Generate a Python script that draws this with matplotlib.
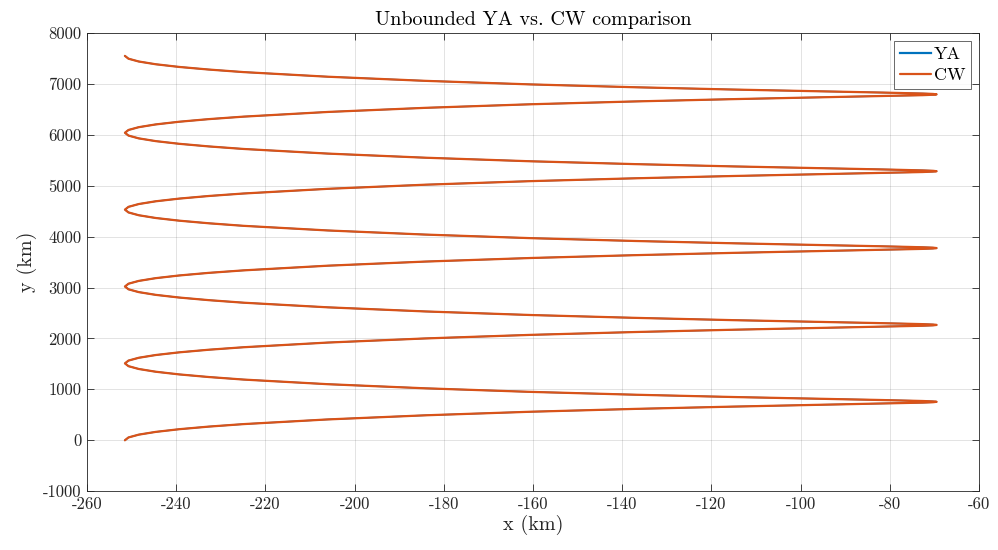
import matplotlib
matplotlib.use("Agg")
import matplotlib.pyplot as plt
import numpy as np

plt.rcParams['font.family'] = ['cmr10', 'DejaVu Serif']
plt.rcParams['axes.unicode_minus'] = False
plt.rcParams['axes.formatter.use_mathtext'] = False

# x (km) along one orbit cycle
x_cycle = [-251.5, -250.7, -248.4, -244.6, -239.3, -232.7, -224.9, -206.0, -184.1,
           -160.5, -137.0, -115.0, -96.2, -81.7, -72.6, -70.3, -69.5, -70.3, -72.6,
           -81.7, -96.2, -115.0, -137.0, -160.5, -184.1, -206.0, -224.9, -232.7,
           -239.3, -244.6, -248.4, -250.7]

# y (km) for each of the five cycles
y_cycle1 = [0, 55, 110, 164, 217, 268, 317, 409, 490, 560, 616, 661, 695, 720, 739, 747,
            755, 763, 771, 790, 815, 849, 894, 950, 1020, 1101, 1192, 1242, 1293, 1346, 1400, 1455]
y_cycle2 = [1510, 1565, 1620, 1674, 1727, 1778, 1827, 1919, 2000, 2070, 2126, 2171, 2205, 2230, 2249, 2257,
            2265, 2273, 2281, 2300, 2325, 2359, 2404, 2460, 2530, 2611, 2702, 2752, 2803, 2856, 2910, 2965]
y_cycle3 = [3020, 3075, 3130, 3184, 3237, 3288, 3337, 3429, 3510, 3580, 3636, 3681, 3715, 3740, 3759, 3767,
            3775, 3783, 3791, 3810, 3835, 3869, 3914, 3970, 4040, 4121, 4212, 4262, 4313, 4366, 4420, 4475]
y_cycle4 = [4530, 4585, 4640, 4694, 4747, 4798, 4847, 4939, 5020, 5090, 5146, 5191, 5225, 5250, 5269, 5277,
            5285, 5293, 5301, 5320, 5345, 5379, 5424, 5480, 5550, 5631, 5722, 5772, 5823, 5876, 5930, 5985]
y_cycle5 = [6040, 6095, 6150, 6204, 6257, 6308, 6357, 6449, 6530, 6600, 6656, 6701, 6735, 6760, 6779, 6787,
            6795, 6803, 6811, 6830, 6855, 6889, 6934, 6990, 7060, 7141, 7232, 7282, 7333, 7386, 7440, 7495]
x_end = [-251.5]
y_end = [7550]

x_ticks = [-260, -240, -220, -200, -180, -160, -140, -120, -100, -80, -60]
y_ticks = [-1000, 0, 1000, 2000, 3000, 4000, 5000, 6000, 7000, 8000]

x_all = x_cycle * 5 + x_end
y_all = y_cycle1 + y_cycle2 + y_cycle3 + y_cycle4 + y_cycle5 + y_end

fig = plt.figure(figsize=(9.98, 5.5), dpi=100)
ax = fig.add_axes([0.0872, 0.107, 0.8937, 0.833])

ax.plot(x_all, y_all, color=(0.0, 0.447, 0.741), lw=1.1, label='YA')
ax.plot(x_all, y_all, color=(0.85, 0.325, 0.098), lw=1.6, label='CW',
        solid_joinstyle='round', solid_capstyle='round')

ax.set_xlim(-260, -60)
ax.set_ylim(-1000, 8000)
ax.set_xticks(x_ticks)
ax.set_yticks(y_ticks)
ax.set_xticklabels([str(v) for v in x_ticks])
ax.set_yticklabels([str(v) for v in y_ticks])
ax.grid(True, color=(0.15, 0.15, 0.15), alpha=0.15, lw=0.6)
ax.set_axisbelow(True)
ax.tick_params(direction='in', top=True, right=True, length=5, width=0.6,
               labelsize=12, colors=(0.15, 0.15, 0.15), pad=4)
for s in ax.spines.values():
    s.set_color((0.15, 0.15, 0.15))
    s.set_linewidth(0.6)

ax.set_xlabel('x (km)', fontsize=14.5, color=(0.15, 0.15, 0.15), labelpad=2)
ax.set_ylabel('y (km)', fontsize=14.5, color=(0.15, 0.15, 0.15), labelpad=4)
ax.set_title('Unbounded YA vs. CW comparison', fontsize=14.5, color='black', pad=6)

leg = ax.legend(loc='upper right', fontsize=13, frameon=True, fancybox=False,
                edgecolor=(0.15, 0.15, 0.15), borderaxespad=0.45, handlelength=1.75,
                handletextpad=0.15, labelspacing=0.3, borderpad=0.3)
leg.get_frame().set_linewidth(0.6)
for h in leg.get_lines():
    h.set_linewidth(1.6)

fig.savefig('out.png', dpi=100)
